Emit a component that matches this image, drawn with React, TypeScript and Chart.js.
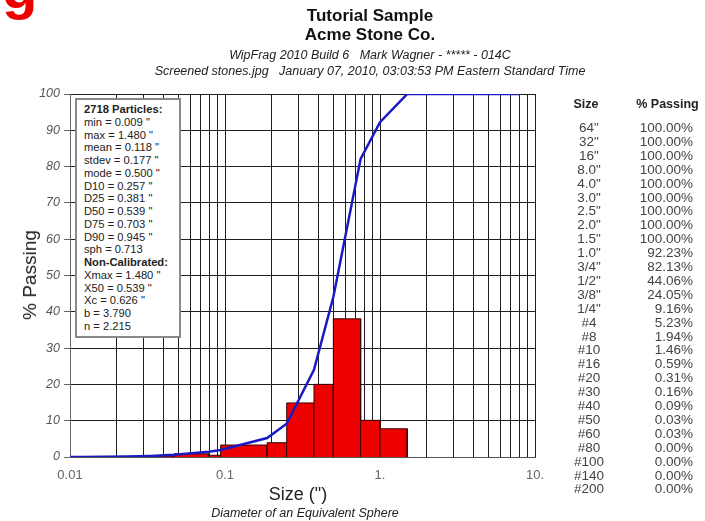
import React, { useEffect, useRef } from "react";
import { Chart, registerables } from "chart.js";

Chart.register(...registerables);

// ---- data ----
const curveSizes = [8.0, 4.0, 3.0, 2.5, 2.0, 1.5, 1.0, 0.75, 0.5, 0.375, 0.25, 0.187, 0.0937, 0.0787, 0.0469, 0.0331, 0.0234, 0.0165, 0.0117, 0.0098, 0.007];
const curvePassing = [100, 100, 100, 100, 100, 100, 92.23, 82.13, 44.06, 24.05, 9.16, 5.23, 1.94, 1.46, 0.59, 0.31, 0.16, 0.09, 0.03, 0.03, 0.0];

const binUpper = [1.5, 1.0, 0.75, 0.5, 0.375, 0.25, 0.187, 0.0937, 0.0787, 0.0469, 0.0331, 0.0234, 0.0165];
const binLower = [1.0, 0.75, 0.5, 0.375, 0.25, 0.187, 0.0937, 0.0787, 0.0469, 0.0331, 0.0234, 0.0165, 0.0117];
const binHeights = [7.77, 10.1, 38.07, 20.01, 14.89, 3.93, 3.29, 0.48, 0.87, 0.28, 0.15, 0.07, 0.06];

const xTickValues = [0.01, 0.1, 1, 10];
const xTickLabels = ["0.01", "0.1", "1.", "10."];
const minorMultipliers = [2, 3, 4, 5, 6, 7, 8, 9];

const tableSizes = ['64"', '32"', '16"', '8.0"', '4.0"', '3.0"', '2.5"', '2.0"', '1.5"', '1.0"', '3/4"', '1/2"', '3/8"', '1/4"', '#4', '#8', '#10', '#16', '#20', '#30', '#40', '#50', '#60', '#80', '#100', '#140', '#200'];
const tablePassing = ['100.00%', '100.00%', '100.00%', '100.00%', '100.00%', '100.00%', '100.00%', '100.00%', '100.00%', '92.23%', '82.13%', '44.06%', '24.05%', '9.16%', '5.23%', '1.94%', '1.46%', '0.59%', '0.31%', '0.16%', '0.09%', '0.03%', '0.03%', '0.00%', '0.00%', '0.00%', '0.00%'];

const statsLines: [string, boolean][] = [
  ["2718 Particles:", true],
  ['min = 0.009 "', false],
  ['max = 1.480 "', false],
  ['mean = 0.118 "', false],
  ['stdev = 0.177 "', false],
  ['mode = 0.500 "', false],
  ['D10 = 0.257 "', false],
  ['D25 = 0.381 "', false],
  ['D50 = 0.539 "', false],
  ['D75 = 0.703 "', false],
  ['D90 = 0.945 "', false],
  ["sph = 0.713", false],
  ["Non-Calibrated:", true],
  ['Xmax = 1.480 "', false],
  ['X50 = 0.539 "', false],
  ['Xc = 0.626 "', false],
  ["b = 3.790", false],
  ["n = 2.215", false],
];

const FONT = "'Liberation Sans', Arial, sans-serif";

export default function App() {
  const ref = useRef<HTMLCanvasElement | null>(null);

  useEffect(() => {
    const canvas = ref.current;
    if (!canvas) return;

    const gridValues: number[] = [];
    for (let i = 0; i < xTickValues.length; i++) {
      gridValues.push(xTickValues[i]);
      if (i < xTickValues.length - 1) {
        for (const m of minorMultipliers) gridValues.push(xTickValues[i] * m);
      }
    }

    const curveData = curveSizes.map((s, i) => ({ x: s, y: curvePassing[i] }));
    const barSets = binHeights.map((h, i) => ({
      data: [
        { x: binLower[i], y: 0 },
        { x: binLower[i], y: h },
        { x: binUpper[i], y: h },
        { x: binUpper[i], y: 0 },
      ],
      fill: "origin",
      backgroundColor: "#ee0000",
      borderColor: "#3a0000",
      borderWidth: 1,
      pointRadius: 0,
      tension: 0,
    }));

    const chart = new Chart(canvas, {
      type: "line",
      data: {
        datasets: [
          {
            data: curveData,
            borderColor: "#1a1ac4",
            borderWidth: 2.5,
            pointRadius: 0,
            fill: false,
            tension: 0,
          },
          ...barSets,
        ] as any,
      },
      options: {
        animation: false,
        responsive: false,
        maintainAspectRatio: false,
        layout: { padding: { left: 0, top: 94, right: 170, bottom: 34 } },
        plugins: {
          legend: { display: false },
          tooltip: { enabled: false },
          title: { display: false },
        },
        scales: {
          x: {
            type: "logarithmic",
            min: 0.01,
            max: 10,
            afterFit: (s: any) => {
              s.height = 30;
            },
            afterBuildTicks: (s: any) => {
              s.ticks = gridValues.map((v) => ({ value: v }));
            },
            ticks: {
              autoSkip: false,
              maxRotation: 0,
              minRotation: 0,
              padding: 11,
              color: "#666",
              font: { family: FONT, size: 13 },
              callback: (v: any) => {
                const idx = xTickValues.findIndex((t) => Math.abs(t - Number(v)) < t * 1e-6);
                return idx >= 0 ? xTickLabels[idx] : "";
              },
            },
            grid: { color: "#1e1e1e", drawTicks: false, lineWidth: 1 },
            border: { color: "#555", width: 1 },
          },
          y: {
            min: 0,
            max: 100,
            afterFit: (s: any) => {
              s.width = 70;
            },
            ticks: {
              stepSize: 10,
              padding: 4,
              color: "#555",
              font: { family: FONT, size: 12.5, style: "italic" },
            },
            grid: { color: "#1e1e1e", tickColor: "#666", tickLength: 6, lineWidth: 1 },
            border: { color: "#666", width: 1 },
          },
        },
      } as any,
    });
    return () => chart.destroy();
  }, []);

  const abs = (o: React.CSSProperties): React.CSSProperties => ({ position: "absolute", whiteSpace: "nowrap", ...o });

  return (
    <div style={{ position: "fixed", left: 0, top: 0, width: 705, height: 521, background: "#fff", overflow: "hidden", fontFamily: FONT }}>
      <canvas ref={ref} width={705} height={521} style={{ position: "absolute", left: 0, top: 0, width: 705, height: 521 }} />
      <div style={abs({ left: 2, top: -41, fontSize: 58, fontWeight: "bold", color: "#ee0000", lineHeight: "58px" })}>g</div>
      <div style={abs({ left: 170, width: 400, top: 6, textAlign: "center", fontSize: 17, fontWeight: "bold", color: "#111", lineHeight: "19px" })}>
        Tutorial Sample
        <br />
        Acme Stone Co.
      </div>
      <div style={abs({ left: 120, width: 500, top: 47, textAlign: "center", fontSize: 12.5, fontStyle: "italic", color: "#222", lineHeight: "16px" })}>
        WipFrag 2010 Build 6&nbsp;&nbsp;&nbsp;Mark Wagner - ***** - 014C
        <br />
        Screened stones.jpg&nbsp;&nbsp;&nbsp;January 07, 2010, 03:03:53 PM Eastern Standard Time
      </div>
      <div style={abs({ left: 30, top: 275, transform: "translate(-50%, -50%) rotate(-90deg)", fontSize: 19, color: "#222" })}>% Passing</div>
      <div style={abs({ left: 198, width: 200, top: 483, textAlign: "center", fontSize: 18, color: "#222", lineHeight: "22px" })}>Size (")</div>
      <div style={abs({ left: 155, width: 300, top: 505, textAlign: "center", fontSize: 12.5, fontStyle: "italic", color: "#222", lineHeight: "16px" })}>
        Diameter of an Equivalent Sphere
      </div>
      <div
        style={abs({
          left: 75,
          top: 98,
          width: 106,
          height: 240,
          background: "#fff",
          border: "2px solid #888",
          padding: "3px 0 0 7px",
          boxSizing: "border-box",
          fontSize: 11.2,
          color: "#222",
          lineHeight: "12.76px",
        })}
      >
        {statsLines.map(([t, b], i) => (
          <div key={i} style={{ fontWeight: b ? "bold" : "normal" }}>{t}</div>
        ))}
      </div>
      <div style={abs({ left: 560, width: 52, top: 97, textAlign: "center", fontSize: 12.5, fontWeight: "bold", color: "#222" })}>Size</div>
      <div style={abs({ left: 630, width: 75, top: 97, textAlign: "center", fontSize: 12.5, fontWeight: "bold", color: "#222" })}>% Passing</div>
      {tableSizes.map((s, i) => (
        <div key={"s" + i} style={abs({ left: 559, width: 60, top: 120 + i * 13.9, textAlign: "center", fontSize: 13.5, color: "#444", lineHeight: "16px" })}>{s}</div>
      ))}
      {tablePassing.map((p, i) => (
        <div key={"p" + i} style={abs({ left: 613, width: 80, top: 120 + i * 13.9, textAlign: "right", fontSize: 13.5, color: "#444", lineHeight: "16px" })}>{p}</div>
      ))}
    </div>
  );
}
